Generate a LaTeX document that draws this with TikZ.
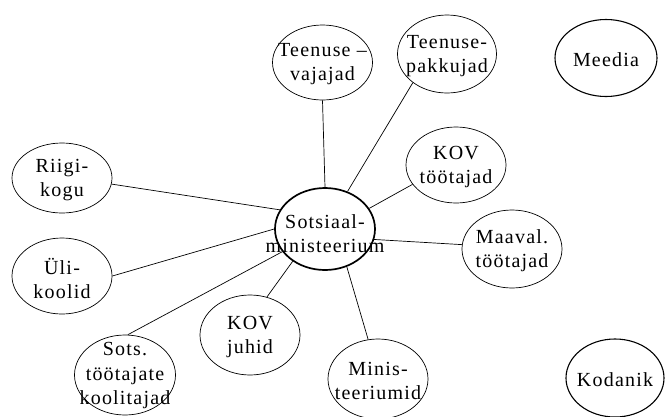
\documentclass[tikz,border=0pt]{standalone}
\usepackage{fontspec}
\setmainfont{Liberation Serif}[LetterSpace=6]
\usetikzlibrary{shapes.geometric}
\begin{document}
\begin{tikzpicture}[x=1pt,y=-1pt,
  every node/.style={font=\fontsize{20}{24}\selectfont},
  oval/.style={ellipse,draw,line width=0.7pt,inner sep=0pt,
    minimum width=100pt,minimum height=78pt},
  hub/.style={oval,line width=1.7pt,minimum height=82pt},
  lone/.style={oval,line width=1.1pt},
  txt/.style={label={[align=center,yshift=-2pt]center:#1}},
  link/.style={line width=0.7pt}]
\useasboundingbox (0,0) rectangle (665,416);

% the ministry in the middle
\node[hub,label={[align=center,yshift=-5pt]center:Sotsiaal-\\ministeerium}] (sm) at (325,229) {};

% partners around it
\node[oval,minimum height=75pt,txt={Teenuse –\\vajajad}] (vaj) at (322.5,62.5) {};
\node[oval,minimum width=99pt,txt={Teenuse-\\pakkujad}] (pak) at (447,54) {};
\node[oval,minimum height=70pt,txt={Riigi-\\kogu}] (rk) at (62,178) {};
\node[oval,minimum height=76pt,txt={Üli-\\koolid}] (uli) at (62,276) {};
\node[oval,minimum height=76pt,txt={KOV\\töötajad}] (kovt) at (456,165) {};
\node[oval,txt={Maaval.\\töötajad}] (maa) at (512,249) {};
\node[oval,minimum height=80pt,txt={KOV\\juhid}] (kovj) at (250,335) {};
\node[oval,minimum width=101pt,minimum height=80pt,
  label={[align=center,yshift=-1pt,font=\fontsize{20}{24.5}\selectfont]center:Sots.\\töötajate\\koolitajad}] (sots) at (125,375) {};
\node[oval,minimum height=80pt,txt={Minis-\\teeriumid}] (min) at (378,379) {};

% unconnected actors
\node[lone,minimum width=102pt,minimum height=77pt,txt={Meedia}] (mee) at (606,58) {};
\node[lone,minimum width=98pt,txt={Kodanik}] (kod) at (615,378) {};

% links
\draw[link] (sm.90)  -- (vaj.270);
\draw[link] (sm.59)  -- (pak.220);
\draw[link] (sm.25)  -- (kovt.204);
\draw[link] (sm.-12) -- (maa.175);
\draw[link] (sm.300) -- (min.104);
\draw[link] (sm.225) -- (kovj.66);
\draw[link] (sm.208) -- (sots.86);
\draw[link] (sm.180) -- (uli.0);
\draw[link] (sm.157) -- (rk.-7);
\end{tikzpicture}
\end{document}
